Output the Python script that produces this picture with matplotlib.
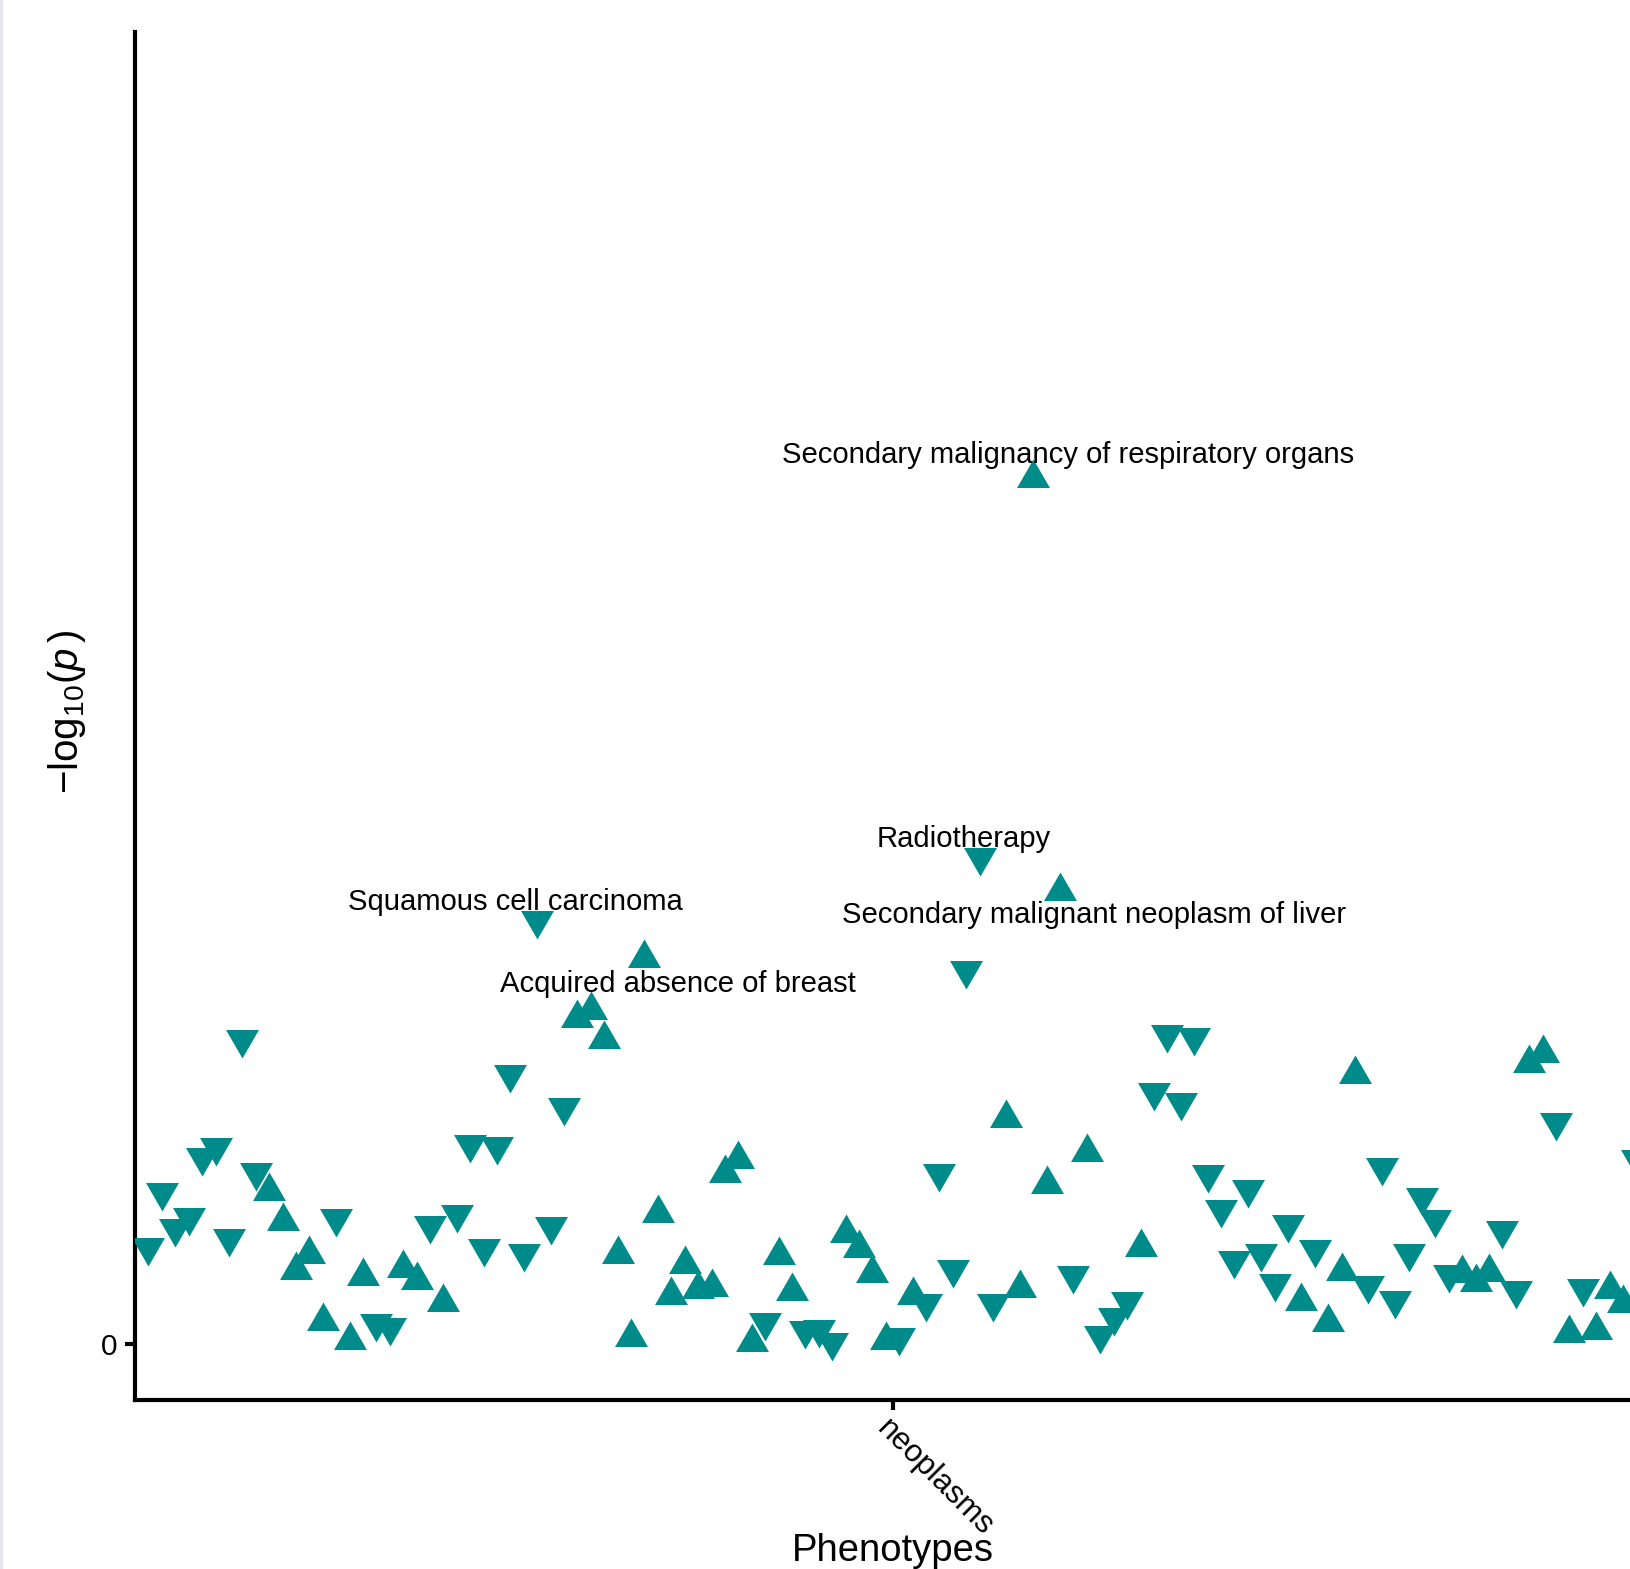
import numpy as np
import matplotlib
matplotlib.use('Agg')
import matplotlib.pyplot as plt
from matplotlib.patches import Rectangle

plt.rcParams['font.family'] = ['Liberation Sans', 'DejaVu Sans']
plt.rcParams['mathtext.fontset'] = 'custom'
plt.rcParams['mathtext.rm'] = 'Liberation Sans'
plt.rcParams['mathtext.it'] = 'Liberation Sans:italic'

# phenotypes in plotting order (all in the neoplasms group)
pheno_idx = np.arange(1, 113)
log_p = np.array([
    0.97, 1.52, 1.16, 1.27, 1.87, 1.97, 1.06, 3.05, 1.72, 1.53,
    1.23, 0.74, 0.90, 0.23, 1.26, 0.04, 0.68, 0.21, 0.17, 0.76,
    0.64, 1.19, 0.42, 1.30, 2.00, 0.96, 1.98, 2.70, 0.91, 4.24,
    1.18, 2.37, 3.26, 3.34, 3.05, 0.90, 0.07, 3.86, 1.31, 0.49,
    0.80, 0.55, 0.57, 1.71, 1.85, 0.02, 0.22, 0.89, 0.53, 0.14,
    0.15, 0.02, 1.11, 0.96, 0.71, 0.04, 0.07, 0.49, 0.41, 1.71,
    0.75, 3.74, 4.87, 0.41, 2.26, 0.56, 8.66, 1.60, 4.53, 0.69,
    1.92, 0.09, 0.27, 0.43, 0.97, 2.52, 3.10, 2.42, 3.07, 1.70,
    1.35, 0.84, 1.55, 0.91, 0.61, 1.20, 0.43, 0.95, 0.22, 0.73,
    2.70, 0.59, 1.77, 0.44, 0.91, 1.47, 1.25, 0.70, 0.71, 0.62,
    0.72, 1.14, 0.54, 2.81, 2.91, 2.22, 0.11, 0.56, 0.14, 0.55,
    0.41, 1.85])
# effect direction: 1 = positive (up triangle), -1 = negative (down triangle)
direction = np.array([
    -1, -1, -1, -1, -1, -1, -1, -1, -1, 1,
    1, 1, 1, 1, -1, 1, 1, -1, -1, 1,
    1, -1, 1, -1, -1, -1, -1, -1, -1, -1,
    -1, -1, 1, 1, 1, 1, 1, 1, 1, 1,
    1, 1, 1, 1, 1, 1, -1, 1, 1, -1,
    -1, -1, 1, 1, 1, 1, -1, 1, -1, -1,
    -1, -1, -1, -1, 1, 1, 1, 1, 1, -1,
    1, -1, -1, -1, 1, -1, -1, -1, -1, -1,
    -1, -1, -1, -1, -1, -1, 1, -1, 1, 1,
    1, -1, -1, -1, -1, -1, -1, -1, 1, 1,
    1, -1, -1, 1, 1, -1, 1, -1, 1, 1,
    1, -1])

group_names = ['neoplasms']
group_centers = [56.5]

label_texts = ['Secondary malignancy of respiratory organs', 'Radiotherapy',
               'Secondary malignant neoplasm of liver', 'Squamous cell carcinoma',
               'Acquired absence of breast']
label_x = [69.56, 61.80, 71.50, 28.38, 40.46]
label_y = [8.81, 4.97, 4.21, 4.34, 3.52]

col = '#008B8B'
up_tri = [(0, 1), (0.866, -0.5), (-0.866, -0.5)]
down_tri = [(0, -1), (0.866, 0.5), (-0.866, 0.5)]

fig = plt.figure(figsize=(16.3, 15.69), dpi=100)
ax = fig.add_axes([134.5 / 1630, 169 / 1569, 1516 / 1630, 1368 / 1569])

up = direction > 0
ax.scatter(pheno_idx[up], log_p[up], marker=up_tri, s=750, color=col, linewidths=0, zorder=3)
ax.scatter(pheno_idx[~up], log_p[~up], marker=down_tri, s=750, color=col, linewidths=0, zorder=3)

for t, x, y in zip(label_texts, label_x, label_y):
    ax.text(x, y, t, ha='center', va='baseline', fontsize=21.1, color='black', zorder=4)

ax.set_xlim(-0.044, 113.044)
ax.set_ylim(-0.56, 13.12)

ax.set_yticks([0])
ax.set_yticklabels(['0'])
ax.set_xticks(group_centers)
ax.set_xticklabels(group_names)
ax.tick_params(axis='both', length=7, width=3, labelsize=21.5, pad=5, color='black')
ax.tick_params(axis='x', labelsize=22.5, pad=3)
for lbl in ax.get_xticklabels():
    lbl.set_rotation(-45)
    lbl.set_ha('left')
    lbl.set_va('top')
    lbl.set_rotation_mode('anchor')

for s in ['top', 'right']:
    ax.spines[s].set_visible(False)
for s in ['left', 'bottom']:
    ax.spines[s].set_linewidth(3)
    ax.spines[s].set_color('black')

ax.set_xlabel('Phenotypes', fontsize=27.5)
ax.xaxis.set_label_coords(0.5, -0.1177)
ax.xaxis.label.set_va('baseline')
ax.set_ylabel(r'$-\mathrm{log}_{10}(\mathit{p}\,)$', fontsize=29)
ax.yaxis.set_label_coords(-0.0445, 0.503)
ax.yaxis.label.set_va('center')

fig.patches.append(Rectangle((0, 0), 2 / 1630, 1, transform=fig.transFigure,
                             color='#E6E6EC', zorder=0))

plt.savefig('out.png', dpi=100)
